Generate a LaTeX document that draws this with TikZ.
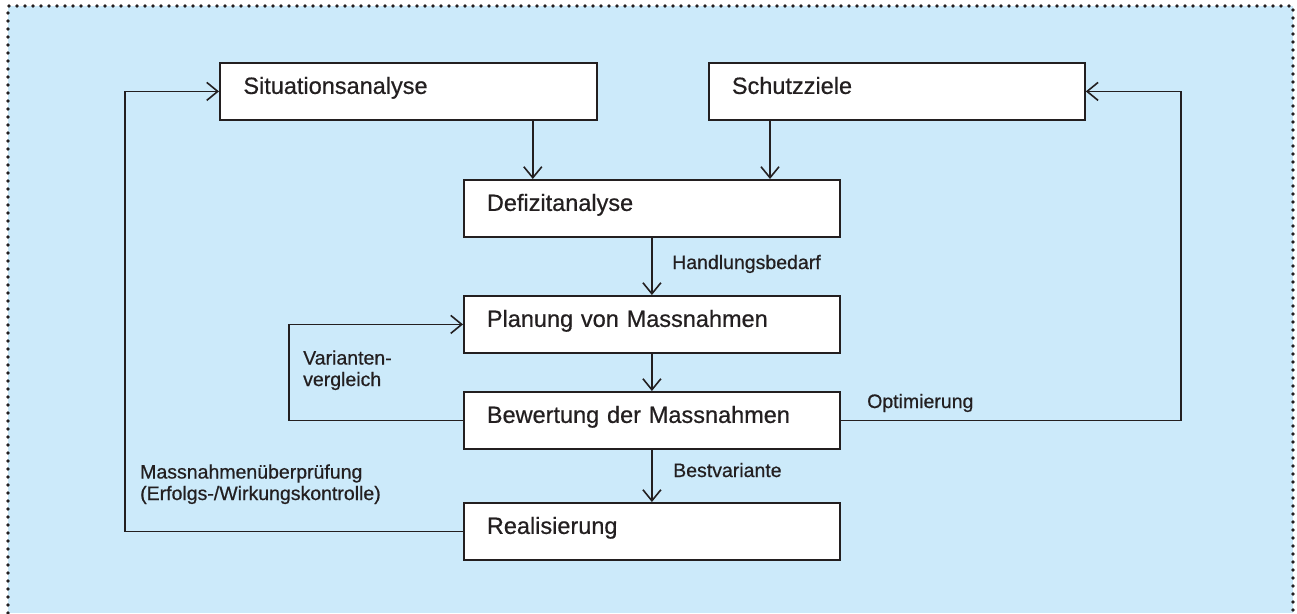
\documentclass[tikz,border=0pt]{standalone}
\usepackage{fontspec}
\setmainfont{Liberation Sans}[FakeBold=0.6]
\newfontfamily\heavy{Liberation Sans}[FakeBold=0.6]
\usetikzlibrary{arrows.meta}
\definecolor{panel}{RGB}{204,234,250}
\definecolor{ink}{RGB}{35,31,32}

\begin{document}
\begin{tikzpicture}[x=1pt,y=-1pt,
  box/.style={draw=ink, line width=1.8pt, fill=white, anchor=north west,
    minimum height=57pt, inner xsep=22pt, inner ysep=0pt,
    text width=330pt, align=left, text=ink,
    font=\heavy\fontsize{23.5}{27}\selectfont, text height=16pt, text depth=11pt},
  conn/.style={draw=ink, line width=1.6pt,
    -{Straight Barb[length=11pt,width=18pt,line width=1.6pt]}},
  tag/.style={anchor=base west, inner sep=0pt, text=ink, align=left,
    font=\heavy\fontsize{19.5}{21.5}\selectfont},
  frame/.style={draw=ink, line width=3.8pt, line cap=round,
    dash pattern=on 0pt off 8pt}]

\useasboundingbox (0,0) rectangle (1297,613);

% panel with dotted border
\fill[panel] (8,6) rectangle (1293,613);
\draw[frame] (8,613) -- (8,6) -- (1293,6) -- (1293,613);

% process steps
\node[box, minimum width=377pt] (sit)  at (219,62)  {Situationsanalyse};
\node[box, minimum width=376pt] (sch)  at (708,62)  {Schutzziele};
\node[box, minimum width=376pt] (def)  at (463,179) {Defizitanalyse};
\node[box, minimum width=376pt] (plan) at (463,295) {Planung von Massnahmen};
\node[box, minimum width=376pt] (bew)  at (463,391) {Bewertung der Massnahmen};
\node[box, minimum width=376pt] (real) at (463,502) {Realisierung};

% forward flow
\draw[conn] ([xshift=-65pt]sit.south east) -- ([xshift=-65pt]sit.south east |- def.north);
\draw[conn] ([xshift=62pt]sch.south west) -- ([xshift=62pt]sch.south west |- def.north);
\draw[conn] (def.south) -- (plan.north);
\draw[conn] (plan.south) -- (bew.north);
\draw[conn] (bew.south) -- (real.north);

% feedback loops
\draw[conn] (real.west) -- ++(-338,0) |- (sit.west);
\draw[conn] (bew.west) -- ++(-174,0) |- (plan.west);
\draw[conn] (bew.east) -- ++(340,0) |- (sch.east);

% connector labels
\node[tag] (lhb)  at (672,269) {Handlungsbedarf};
\node[tag] (lbv)  at (673,477) {Bestvariante};
\node[tag] (lopt) at (867,408) {Optimierung};
\node[tag] (lvar) at (303,386) {Varianten-\\vergleich};
\node[tag] (lmue) at (140,500) {Massnahmenüberprüfung\\(Erfolgs-/Wirkungskontrolle)};

\end{tikzpicture}
\end{document}
